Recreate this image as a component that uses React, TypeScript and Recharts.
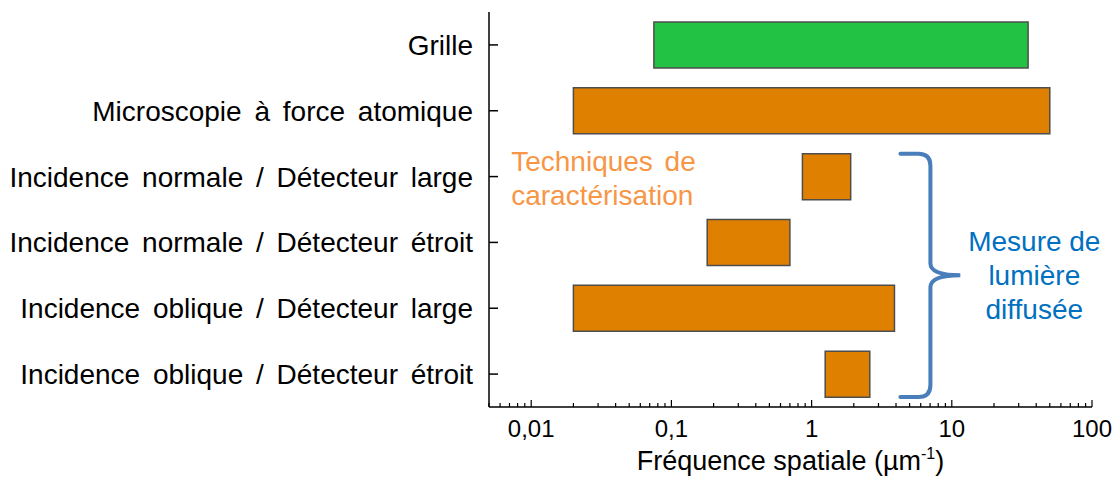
import { BarChart, Bar, Cell, XAxis, YAxis, ReferenceArea, ReferenceDot } from 'recharts'

const categories = [
    'Grille',
    'Microscopie à force atomique',
    'Incidence normale / Détecteur large',
    'Incidence normale / Détecteur étroit',
    'Incidence oblique / Détecteur large',
    'Incidence oblique / Détecteur étroit',
]
const lowValues = [0.075, 0.02, 0.86, 0.18, 0.02, 1.25]
const highValues = [35, 50, 1.9, 0.7, 3.9, 2.6]

const majorTicks = [0.01, 0.1, 1, 10, 100]
const majorLabels = ['0,01', '0,1', '1', '10', '100']
const minorSteps = [2, 3, 4, 5, 6, 7, 8, 9]
const lowestMinor = [0.005, 0.006, 0.007, 0.008, 0.009]

const allTicks = [
    ...lowestMinor,
    ...majorTicks.flatMap((m, i) =>
        i < majorTicks.length - 1 ? [m, ...minorSteps.map((s) => m * s)] : [m]
    ),
]

const data = categories.map((name, i) => ({ name, range: [lowValues[i], highValues[i]] }))

const barFills = ['#22c244', '#e08000', '#e08000', '#e08000', '#e08000', '#e08000']
const FONT = '"Liberation Sans", Arial, sans-serif'

function CategoryTick({ x, y, payload }: any) {
    return (
        <g>
            <line x1={x} x2={x + 9} y1={y} y2={y} stroke="#000" strokeWidth={1.5} />
            <text
                x={x - 16}
                y={y}
                dy={10}
                textAnchor="end"
                fontSize={28}
                fontFamily={FONT}
                fill="#000"
                style={{ wordSpacing: '5px' }}
            >
                {payload.value}
            </text>
        </g>
    )
}

function FreqTick({ x, y, payload }: any) {
    const idx = majorTicks.findIndex((m) => Math.abs(payload.value / m - 1) < 1e-6)
    const major = idx >= 0
    return (
        <g>
            <line x1={x} x2={x} y1={y} y2={y - (major ? 7 : 4)} stroke="#000" strokeWidth={1.2} />
            {major && (
                <text x={x} y={y + 30} textAnchor="middle" fontSize={24} fontFamily={FONT} fill="#000">
                    {majorLabels[idx]}
                </text>
            )}
        </g>
    )
}

function AxisTitle({ viewBox }: any) {
    const cx = viewBox.x + viewBox.width / 2
    return (
        <text x={cx} y={viewBox.y + 63} textAnchor="middle" fontSize={27} fontFamily={FONT} fill="#000">
            Fréquence spatiale (µm
            <tspan fontSize={16} dy={-11}>-1</tspan>
            <tspan dy={11}>)</tspan>
        </text>
    )
}

// accolade "Mesure de lumière diffusée"
function Brace({ x, y, width, height }: any) {
    const inset = 10
    const top = y + inset
    const bottom = y + height - inset
    const mid = (top + bottom) / 2
    const vx = x + 30
    const tip = x + width
    const d = [
        `M ${x} ${top}`,
        `L ${x + 18} ${top}`,
        `Q ${vx} ${top} ${vx} ${top + 12}`,
        `L ${vx} ${mid - 12}`,
        `Q ${vx} ${mid} ${tip} ${mid}`,
        `Q ${vx} ${mid} ${vx} ${mid + 12}`,
        `L ${vx} ${bottom - 12}`,
        `Q ${vx} ${bottom} ${x + 18} ${bottom}`,
        `L ${x} ${bottom}`,
    ].join(' ')
    const tx = tip + 74
    return (
        <g>
            <path d={d} fill="none" stroke="#4a7ebb" strokeWidth={4} strokeLinecap="round" />
            <text textAnchor="middle" fontSize={28} fontFamily={FONT} fill="#0070c0">
                <tspan x={tx} y={mid - 24}>Mesure de</tspan>
                <tspan x={tx} y={mid + 10}>lumière</tspan>
                <tspan x={tx} y={mid + 44}>diffusée</tspan>
            </text>
        </g>
    )
}

function TechLabel({ cx, cy }: any) {
    return (
        <text fontSize={28} fontFamily={FONT} fill="#f79646" style={{ wordSpacing: '4px' }}>
            <tspan x={cx} y={cy - 6}>Techniques de</tspan>
            <tspan x={cx} y={cy + 28}>caractérisation</tspan>
        </text>
    )
}

export default function App() {
    return (
        <div style={{ position: 'absolute', left: 0, top: 0, background: '#fff' }}>
            <BarChart
                width={1118}
                height={478}
                data={data}
                layout="vertical"
                margin={{ top: 12, right: 26, bottom: 0, left: 0 }}
            >
                <XAxis
                    type="number"
                    scale="log"
                    domain={[0.005, 100]}
                    allowDataOverflow
                    ticks={allTicks}
                    interval={0}
                    height={71}
                    tickSize={0}
                    tickMargin={0}
                    tickLine={false}
                    axisLine={{ stroke: '#000', strokeWidth: 1.5 }}
                    tick={FreqTick}
                    label={AxisTitle}
                />
                <YAxis
                    type="category"
                    dataKey="name"
                    width={489}
                    interval={0}
                    tickSize={0}
                    tickMargin={0}
                    tickLine={false}
                    axisLine={{ stroke: '#000', strokeWidth: 1.5 }}
                    tick={CategoryTick}
                />
                <Bar dataKey="range" barSize={46} stroke="#4d4d4d" strokeWidth={1.5} isAnimationActive={false}>
                    {data.map((d, i) => (
                        <Cell key={d.name} fill={barFills[i]} />
                    ))}
                </Bar>
                <ReferenceArea
                    x1={4.3}
                    x2={11.5}
                    y1={categories[2]}
                    y2={categories[5]}
                    ifOverflow="visible"
                    shape={Brace}
                />
                <ReferenceDot
                    x={0.0072}
                    y={categories[2]}
                    r={0}
                    ifOverflow="visible"
                    shape={TechLabel}
                />
            </BarChart>
        </div>
    )
}
